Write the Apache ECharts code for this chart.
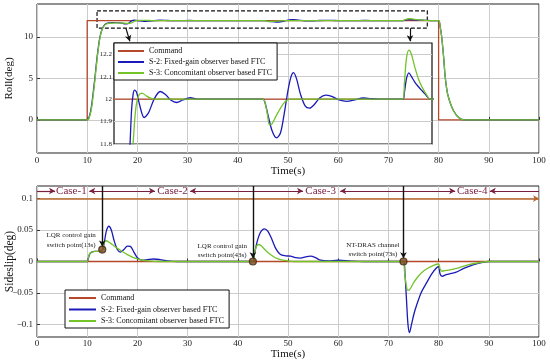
<!DOCTYPE html>
<html><head><meta charset="utf-8">
<script src="https://cdn.jsdelivr.net/npm/echarts@6/dist/echarts.min.js"></script>
<style>html,body{margin:0;padding:0;background:#fff}#c{width:550px;height:364px}</style>
</head><body><div id="c"></div>
<script>
const seriesNames = ['Command', 'S-2: Fixed-gain observer based FTC', 'S-3: Concomitant observer based FTC'];
const rollTicks = [0, 5, 10];
const insetTicks = [11.8, 11.9, 12, 12.1, 12.2];
const insetTimeGrid = [20, 30, 40, 50, 60, 70];
const slipTicks = [-0.1, -0.05, 0, 0.05, 0.1];

const rollCommand = [[0,0],[10,0],[10,12],[80,12],[80,0],[100,0]];
const rollS2 = [[0,0],[10,0],[10.3,0.2],[10.7,1.1],[11,2.3],[11.5,4.9],[12,7.7],[12.5,9.9],[13,11.0],[13.5,11.5],[14,11.7],[15,11.76],[16,11.75],[17,11.68],[17.6,11.6],[18.1,11.62],[18.5,11.8],[18.8,11.95],[19.1,12.02],[19.4,12.04],[19.8,12.03],[20.4,11.975],[21.3,11.918],[22.2,11.94],[23.3,12.0],[24.5,12.034],[25.5,12.022],[26.6,11.996],[27.8,11.985],[29,11.996],[30.5,12.006],[32,12.0],[35,12.0],[45,12.0],[45.4,11.985],[46,11.93],[46.8,11.86],[47.7,11.827],[48.5,11.85],[49.2,11.93],[50,12.04],[50.6,12.1],[51.1,12.118],[51.7,12.09],[52.5,12.02],[53.4,11.97],[54.3,11.96],[55.2,11.975],[56.3,12.005],[57.5,12.018],[58.7,12.012],[60,11.998],[61.7,11.99],[63.3,11.997],[65,12.005],[66.5,12.002],[68,12.0],[72.9,12.0],[73.2,12.03],[73.6,12.09],[74.1,12.117],[74.6,12.1],[75.3,12.075],[76,12.055],[76.8,12.035],[77.6,12.015],[78.3,12.0],[80,12],[80.3,11.3],[80.6,10.1],[81,7.6],[81.3,5.3],[81.8,3.1],[82.6,1.6],[83.5,0.6],[84.3,0.15],[85,0],[100,0]];
const rollS3 = [[0,0],[10,0],[10.3,0.1],[10.7,0.9],[11,2.0],[11.5,4.6],[12,7.5],[12.5,9.8],[13,11.0],[13.5,11.45],[14,11.62],[15,11.7],[16,11.72],[17,11.7],[18,11.66],[18.7,11.68],[19.1,11.8],[19.6,11.95],[20.2,12.016],[20.9,12.027],[21.7,12.015],[22.6,12.004],[23.5,12.0],[45,12.0],[45.4,11.985],[45.9,11.93],[46.3,11.885],[46.8,11.89],[47.5,11.92],[48.5,11.96],[49.5,11.99],[50.5,12.0],[72.9,12.0],[73.2,12.07],[73.6,12.18],[74.1,12.218],[74.6,12.2],[75.3,12.14],[76,12.09],[76.8,12.05],[77.6,12.02],[78.3,12.0],[80,12],[80.3,11.3],[80.6,10.1],[81,7.6],[81.3,5.3],[81.8,3.1],[82.6,1.6],[83.5,0.6],[84.3,0.15],[85,0],[100,0]];

const slipCommand = [[0,0],[100,0]];
const slipS2 = [[0,0],[10,0],[10.2,0.004],[10.5,0.012],[10.9,0.015],[11.5,0.016],[12.5,0.016],[13,0.017],[13.4,0.03],[13.8,0.048],[14.3,0.056],[14.8,0.05],[15.4,0.032],[16,0.019],[16.6,0.015],[17.3,0.019],[18,0.0245],[18.6,0.024],[19.3,0.015],[20,0.006],[21,0.002],[22,0.003],[23.3,0.004],[24.5,0.003],[26,0.001],[28,0],[43,0],[43.3,0.01],[43.8,0.03],[44.5,0.046],[45.3,0.052],[46,0.048],[46.8,0.035],[47.6,0.02],[48.5,0.011],[49.5,0.009],[50.5,0.0085],[51.5,0.006],[52.5,0.0055],[53.5,0.0075],[54.5,0.0085],[55.5,0.006],[56.5,0.002],[58,0.001],[60,0.002],[61.5,0.0015],[63,0.0005],[65,0],[73,0],[73.3,-0.02],[73.6,-0.06],[73.9,-0.1],[74.2,-0.113],[74.6,-0.1],[75.1,-0.083],[75.6,-0.07],[76.5,-0.05],[77.6,-0.034],[78.6,-0.02],[79.6,-0.01],[80,-0.008],[80.3,-0.02],[80.7,-0.0235],[81.5,-0.021],[82.5,-0.019],[83.5,-0.017],[85,-0.011],[87,-0.005],[89,-0.001],[90,0],[100,0]];
const slipS3 = [[0,0],[10,0],[10.2,0.005],[10.5,0.013],[10.9,0.015],[11.5,0.016],[12.5,0.016],[13,0.017],[13.3,0.028],[13.7,0.033],[14.3,0.031],[15,0.027],[16,0.021],[17,0.016],[18,0.011],[19,0.007],[20,0.004],[21,0.002],[22,0.001],[24,0],[43,0],[43.3,0.012],[43.7,0.024],[44.2,0.027],[44.8,0.024],[45.5,0.018],[46.5,0.011],[47.5,0.006],[48.5,0.003],[50,0.001],[51,0],[73,0],[73.2,-0.015],[73.5,-0.035],[73.9,-0.046],[74.3,-0.044],[75,-0.034],[76,-0.023],[77,-0.015],[78,-0.01],[79,-0.006],[80,-0.004],[80.3,-0.012],[80.7,-0.0155],[81.5,-0.014],[82.5,-0.013],[84,-0.01],[86,-0.005],[88,-0.002],[90,0],[100,0]];

const switchPoints = [[13,0.019],[43,0],[73,0]];
const switchNotes = ['LQR control gain\nswitch point(13s)', 'LQR control gain\nswitch point(43s)', 'NT-DRAS channel\nswitch point(73s)'];
const caseNames = ['Case-1', 'Case-2', 'Case-3', 'Case-4'];

const C_CMD = '#b5472b', C_S2 = '#1a1ab8', C_S3 = '#72c42a';
const FONT = 'Liberation Serif';
const gridLine = { show: true, lineStyle: { color: '#cccccc', width: 1 } };

function mainX(gi, gap, margin) {
  return {
    type: 'value', gridIndex: gi, min: 0, max: 100, interval: 10,
    name: 'Time(s)', nameLocation: 'middle', nameGap: gap, nameMoveOverlap: false,
    nameTextStyle: { fontFamily: FONT, fontSize: 11, color: '#111' },
    axisLine: { show: false }, axisTick: { show: true, inside: true, length: 3, lineStyle: { color: '#333' } },
    axisLabel: { fontFamily: FONT, fontSize: 9, color: '#222', margin: margin },
    splitLine: gridLine
  };
}
function lineSeries(name, data, color, xi, yi, z, extra) {
  return Object.assign({
    type: 'line', name: name, data: data, xAxisIndex: xi, yAxisIndex: yi,
    showSymbol: false, symbol: 'none', smooth: name === 'Command' ? false : 0.3,
    lineStyle: { color: color, width: 1.3 }, itemStyle: { color: color }, z: z, clip: true
  }, extra || {});
}
const arrowEnd = (a, b, color, w) => [{ coord: a, symbol: 'none', lineStyle: { color: color, width: w } }, { coord: b, symbol: 'arrow' }];
const arrowBoth = (a, b) => [{ coord: a, symbol: 'arrow' }, { coord: b, symbol: 'arrow' }];

const option = {
  animation: false,
  backgroundColor: '#fff',
  grid: [
    { left: 37, top: 4, width: 502, height: 149, show: true, borderColor: '#222', borderWidth: 1, backgroundColor: 'transparent', outerBoundsMode: 'none', containLabel: false },
    { left: 114, top: 43, width: 318, height: 101, show: true, borderColor: '#111', borderWidth: 1.2, backgroundColor: '#fff', z: 3, outerBoundsMode: 'none', containLabel: false },
    { left: 37, top: 186, width: 502, height: 151, show: true, borderColor: '#222', borderWidth: 1, backgroundColor: 'transparent', outerBoundsMode: 'none', containLabel: false }
  ],
  xAxis: [
    mainX(0, 13, 3),
    { type: 'value', gridIndex: 1, min: 15.3, max: 78.7, z: 4,
      axisLine: { show: false }, axisLabel: { show: false, customValues: insetTimeGrid },
      axisTick: { show: false, customValues: insetTimeGrid }, splitLine: gridLine },
    mainX(2, 12, 2)
  ],
  yAxis: [
    { type: 'value', gridIndex: 0, min: -4, max: 14,
      name: 'Roll(deg)', nameLocation: 'middle', nameGap: 22, nameRotate: 90, nameMoveOverlap: false,
      nameTextStyle: { fontFamily: FONT, fontSize: 11, color: '#111' },
      axisLine: { show: false }, axisTick: { show: true, inside: true, length: 3, customValues: rollTicks, lineStyle: { color: '#333' } },
      axisLabel: { fontFamily: FONT, fontSize: 9, color: '#222', margin: 4, customValues: rollTicks },
      splitLine: gridLine },
    { type: 'value', gridIndex: 1, min: 11.8, max: 12.25, z: 4,
      axisLine: { show: false }, axisTick: { show: false, customValues: insetTicks },
      axisLabel: { fontFamily: FONT, fontSize: 7, color: '#222', margin: 2, customValues: insetTicks },
      splitLine: gridLine },
    { type: 'value', gridIndex: 2, min: -0.12, max: 0.12,
      name: 'Sideslip(deg)', nameLocation: 'middle', nameGap: 21, nameRotate: 90, nameMoveOverlap: false,
      nameTextStyle: { fontFamily: FONT, fontSize: 11.5, color: '#111' },
      axisLine: { show: false }, axisTick: { show: true, inside: true, length: 3, customValues: slipTicks, lineStyle: { color: '#333' } },
      axisLabel: { fontFamily: FONT, fontSize: 9, color: '#222', margin: 4, customValues: slipTicks,
        formatter: v => String(v).replace('-', '\u2212') },
      splitLine: gridLine }
  ],
  legend: [
    { data: seriesNames, orient: 'vertical', left: 114, top: 43, icon: 'rect', itemWidth: 26, itemHeight: 2,
      itemGap: 1, itemTextGap: 5, padding: [3, 5, 2, 4], borderColor: '#111', borderWidth: 1, backgroundColor: '#fff', z: 10,
      textStyle: { fontFamily: FONT, fontSize: 8, lineHeight: 10, color: '#111' }, selectedMode: false },
    { data: seriesNames, orient: 'vertical', left: 65, top: 290, icon: 'rect', itemWidth: 27, itemHeight: 2,
      itemGap: 1.5, itemTextGap: 5, padding: [3, 5, 2, 4], borderColor: '#111', borderWidth: 1, backgroundColor: '#fff', z: 10,
      textStyle: { fontFamily: FONT, fontSize: 8, lineHeight: 10, color: '#111' }, selectedMode: false }
  ],
  series: [
    lineSeries(seriesNames[0], rollCommand, C_CMD, 0, 0, 2, {
      markArea: { silent: true, itemStyle: { color: 'rgba(0,0,0,0)', borderColor: '#111', borderWidth: 1.2, borderType: [4, 2] },
        data: [[{ coord: [11.96, 13.17] }, { coord: [77.75, 11.08] }]] },
      markLine: { silent: true, symbolSize: [5, 6], label: { show: false }, lineStyle: { color: '#111', width: 1.2, type: 'solid' },
        data: [arrowEnd([17.7, 11.08], [18.5, 9.5], '#111', 1.2), arrowEnd([74.3, 11.08], [74.3, 9.5], '#111', 1.2)] }
    }),
    lineSeries(seriesNames[1], rollS2, C_S2, 0, 0, 2),
    lineSeries(seriesNames[2], rollS3, C_S3, 0, 0, 2),
    lineSeries(seriesNames[0], rollCommand, C_CMD, 1, 1, 5),
    lineSeries(seriesNames[1], rollS2, C_S2, 1, 1, 5),
    lineSeries(seriesNames[2], rollS3, C_S3, 1, 1, 5),
    lineSeries(seriesNames[0], slipCommand, C_CMD, 2, 2, 2, {
      markLine: { silent: true, symbolSize: [5, 6], label: { show: false }, lineStyle: { color: '#7a1f3d', width: 1.2, type: 'solid' },
        data: [
          arrowEnd([0, 0.112], [3.6, 0.112], '#7a1f3d', 1.2),
          arrowBoth([10.4, 0.112], [23.5, 0.112]),
          arrowBoth([30.5, 0.112], [53, 0.112]),
          arrowBoth([60.4, 0.112], [83.3, 0.112]),
          [{ coord: [90.2, 0.112], symbol: 'arrow' }, { coord: [100, 0.112], symbol: 'none' }],
          [{ coord: [0, 0.1], symbol: 'none', lineStyle: { color: '#b8672e', width: 1.5 } }, { coord: [100, 0.1], symbol: 'arrow' }],
          arrowEnd([13, 0.12], [13, 0.024], '#111', 1.4),
          arrowEnd([43, 0.12], [43, 0.005], '#111', 1.4),
          arrowEnd([73, 0.12], [73, 0.005], '#111', 1.4)
        ] },
      markPoint: { silent: true, symbol: 'circle', symbolSize: 0,
        data: [
          { coord: [6.85, 0.112], label: { show: true, position: 'inside', formatter: caseNames[0], fontFamily: FONT, fontSize: 11, color: '#7a1f3d' } },
          { coord: [27, 0.112], label: { show: true, position: 'inside', formatter: caseNames[1], fontFamily: FONT, fontSize: 11, color: '#7a1f3d' } },
          { coord: [56.5, 0.112], label: { show: true, position: 'inside', formatter: caseNames[2], fontFamily: FONT, fontSize: 11, color: '#7a1f3d' } },
          { coord: [86.7, 0.112], label: { show: true, position: 'inside', formatter: caseNames[3], fontFamily: FONT, fontSize: 11, color: '#7a1f3d' } },
          { coord: [6.8, 0.0335], label: { show: true, position: 'inside', formatter: switchNotes[0], fontFamily: FONT, fontSize: 7, lineHeight: 10, color: '#222' } },
          { coord: [36.9, 0.0178], label: { show: true, position: 'inside', formatter: switchNotes[1], fontFamily: FONT, fontSize: 7, lineHeight: 9, color: '#222' } },
          { coord: [66.9, 0.0193], label: { show: true, position: 'inside', formatter: switchNotes[2], fontFamily: FONT, fontSize: 7, lineHeight: 9, color: '#222' } }
        ] }
    }),
    lineSeries(seriesNames[1], slipS2, C_S2, 2, 2, 2),
    lineSeries(seriesNames[2], slipS3, C_S3, 2, 2, 2),
    { type: 'scatter', name: 'switch', xAxisIndex: 2, yAxisIndex: 2, data: switchPoints, symbolSize: 7, z: 6,
      itemStyle: { color: '#7d4a1c', borderColor: '#3a2410', borderWidth: 1.2 } }
  ]
};
const chart = echarts.init(document.getElementById('c'), null, { renderer: 'canvas' });
chart.setOption(option);
</script>
</body></html>
